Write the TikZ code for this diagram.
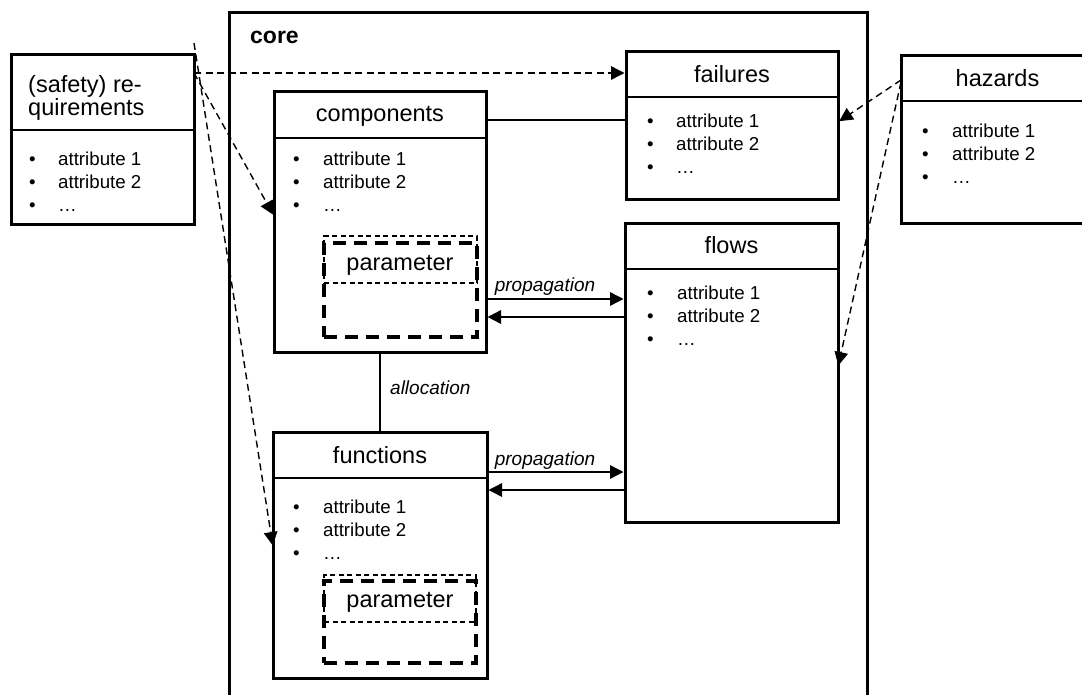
\documentclass[tikz,border=0pt]{standalone}
\usepackage{fontspec}
\setmainfont{Liberation Sans}
\usetikzlibrary{arrows.meta}
\newcommand\attrlist[4]{%
  \node[attr] (#1b1) at (#2,#4) {•};
  \node[attr] (#1a1) at (#3,#4) {attribute 1};
  \node[attr] (#1b2) at (#2,#4+23) {•};
  \node[attr] (#1a2) at (#3,#4+23) {attribute 2};
  \node[attr] (#1b3) at (#2,#4+46) {•};
  \node[attr] (#1a3) at (#3,#4+46) {…};
}
\begin{document}
\begin{tikzpicture}[x=1pt,y=-1pt,
  box/.style={draw, line width=3pt, rectangle, anchor=north west, inner sep=0pt, outer sep=0pt},
  divider/.style={line width=1.3pt},
  title/.style={font=\fontsize{23.5}{28}\selectfont, anchor=base, inner sep=0pt},
  attr/.style={font=\fontsize{18.7}{22}\selectfont, anchor=base west, inner sep=0pt},
  lbl/.style={font=\fontsize{19}{22}\selectfont\itshape, anchor=base, inner sep=0pt},
  conn/.style={line width=1.4pt},
  dconn/.style={line width=1.4pt, dash pattern=on 7pt off 4.5pt},
  tip/.style={-{Triangle[length=13.5pt,width=13.5pt]}, shorten >=1.5pt},
  pthin/.style={draw, line width=1.2pt, dash pattern=on 5pt off 3.5pt, anchor=north west, inner sep=0pt, outer sep=0pt},
  pthick/.style={draw, line width=4pt, dash pattern=on 13pt off 8pt, anchor=north west, inner sep=0pt, outer sep=0pt},
]
\useasboundingbox (0,0) rectangle (1082,694);
\clip (0,0) rectangle (1082,694);

% core
\node[box, minimum width=638pt, minimum height=710pt] (core) at (229,12) {};
\node[font=\fontsize{23}{28}\selectfont\bfseries, anchor=base west, inner sep=0pt] (corel) at (250,43) {core};

% requirements
\node[box, minimum width=183pt, minimum height=170pt] (req) at (11,54) {};
\draw[divider] (req.west |- 0,130) -- (req.east |- 0,130);
\node[title, anchor=base west] (reqt1) at (28,92) {(safety) re-};
\node[title, anchor=base west] (reqt2) at (28,115) {quirements};
\attrlist{req}{29}{58}{165}

% components
\node[box, minimum width=212pt, minimum height=261pt] (comp) at (274,91) {};
\draw[divider] (comp.west |- 0,138) -- (comp.east |- 0,138);
\node[title] (compt) at (380,121) {components};
\attrlist{comp}{293}{323}{165}
\node[pthin, minimum width=153pt, minimum height=47pt] (cpar1) at (324,236) {};
\node[pthick, minimum width=153pt, minimum height=94pt] (cpar2) at (324,243) {};
\node[title] (cpart) at (400,270) {parameter};

% failures
\node[box, minimum width=212pt, minimum height=148pt] (fail) at (626,51) {};
\draw[divider] (fail.west |- 0,97) -- (fail.east |- 0,97);
\node[title] (failt) at (732,82) {failures};
\attrlist{fail}{647}{676}{127}

% hazards
\node[box, minimum width=193pt, minimum height=168pt] (hz) at (901,55) {};
\draw[divider] (hz.west |- 0,101) -- (hz.east |- 0,101);
\node[title] (hzt) at (997.5,86) {hazards};
\attrlist{hz}{922}{952}{137}

% flows
\node[box, minimum width=213pt, minimum height=299pt] (flows) at (625,223) {};
\draw[divider] (flows.west |- 0,269) -- (flows.east |- 0,269);
\node[title] (flowst) at (731.5,253) {flows};
\attrlist{flows}{647}{677}{299}

% functions
\node[box, minimum width=214pt, minimum height=246pt] (func) at (273,432) {};
\draw[divider] (func.west |- 0,478) -- (func.east |- 0,478);
\node[title] (funct) at (380,463) {functions};
\attrlist{func}{293}{323}{513}
\node[pthin, minimum width=152pt, minimum height=47pt] (fpar1) at (324,575) {};
\node[pthick, minimum width=152pt, minimum height=82pt] (fpar2) at (324,581) {};
\node[title] (fpart) at (400,607) {parameter};

% connectors
\coordinate (rs2) at (194,43);
\draw[dconn,tip] (req.east |- 0,73) -- (fail.west |- 0,73);
\draw[dconn,tip] (req.east |- 0,73) -- (comp.west |- 0,216);
\draw[dconn,tip] (rs2) -- (func.west |- 0,547);
\draw[conn] (comp.east |- 0,120) -- (fail.west |- 0,120);
\draw[conn,tip] (comp.east |- 0,299) -- (flows.west |- 0,299);
\draw[conn,tip] (flows.west |- 0,317) -- (comp.east |- 0,317);
\draw[conn,tip] (func.east |- 0,472) -- (flows.west |- 0,472);
\draw[conn,tip] (flows.west |- 0,490) -- (func.east |- 0,490);
\draw[conn] (comp.south) -- (func.north);
\draw[dconn,tip] (hz.west |- 0,80) -- (fail.east |- 0,122);
\draw[dconn,tip] (hz.west |- 0,82) -- (flows.east |- 0,367);

% labels
\node[lbl] (prop1) at (545,291) {propagation};
\node[lbl] (prop2) at (545,465) {propagation};
\node[lbl, anchor=base west] (alloc) at (390,394) {allocation};
\end{tikzpicture}
\end{document}
